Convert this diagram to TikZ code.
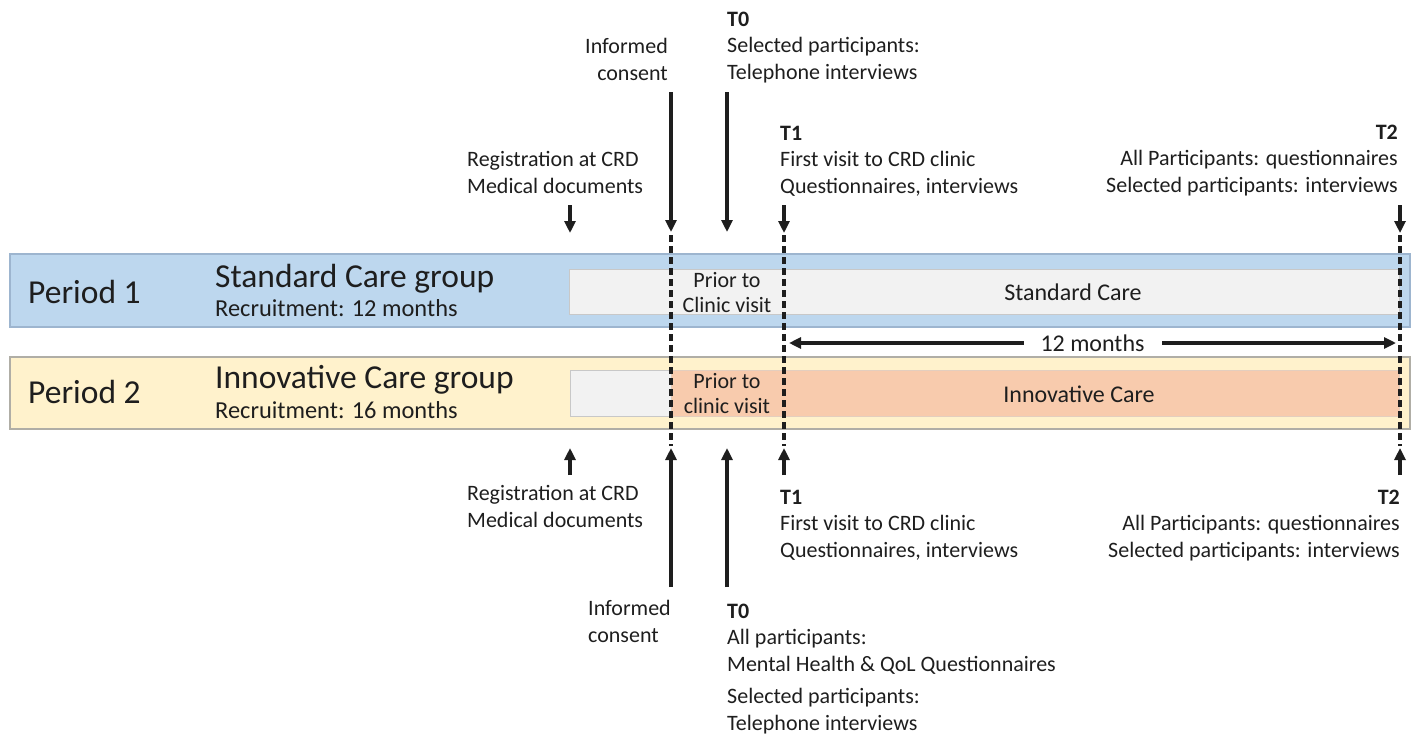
\documentclass[tikz,border=0pt]{standalone}
\usepackage{fontspec}
\setmainfont{Carlito}
\usetikzlibrary{arrows.meta}

\definecolor{ink}{HTML}{1E1E1E}
\definecolor{bandblue}{HTML}{BDD7EE}
\definecolor{bandblueline}{HTML}{9DB5CF}
\definecolor{bandcream}{HTML}{FFF2CC}
\definecolor{bandcreamline}{HTML}{B0AEA6}
\definecolor{boxgrey}{HTML}{F2F2F2}
\definecolor{boxgreyline}{HTML}{C8C8C8}
\definecolor{boxorange}{HTML}{F8CBAD}

\begin{document}
\begin{tikzpicture}[x=1pt,y=-1pt,
  lbl/.style={font=\fontsize{22}{26.5}\selectfont, inner sep=0pt, text=ink},
  bartext/.style={font=\fontsize{24}{28}\selectfont, inner sep=0pt, text=ink},
  title/.style={font=\fontsize{33.5}{38}\selectfont, inner sep=0pt, text=ink},
  evt/.style={-{Triangle[length=12pt,width=11pt]}, line width=3.4pt, draw=ink},
  milestone/.style={line width=3.4pt, draw=ink, dash pattern=on 7pt off 4pt},
  span/.style={{Triangle[length=12pt,width=11pt]}-{Triangle[length=12pt,width=11pt]}, line width=3.4pt, draw=ink}]
\useasboundingbox (0,0) rectangle (1420,736);

% period bands
\path[fill=bandblue, draw=bandblueline, line width=1.2pt] (10,254) rectangle (1410,327);
\path[fill=bandcream, draw=bandcreamline, line width=1.2pt] (10,357) rectangle (1410,429);

% care phases inside the bands
\path[fill=boxgrey, draw=boxgreyline, line width=1pt] (569,269) rectangle (1399,314);
\path[fill=boxgrey, draw=boxgreyline, line width=1pt] (570,370) rectangle (671,416);
\path[fill=boxorange, draw=boxorange!85!black!60, line width=0.6pt] (671,370) rectangle (1399,416);

% band headings
\node[title, anchor=base west] (p1) at (28,303) {Period 1};
\node[title, anchor=base west] (g1) at (215,287) {Standard Care group};
\node[bartext, font=\fontsize{24.4}{28}\selectfont, anchor=base west] (r1) at (215,316) {Recruitment: 12 months};
\node[title, anchor=base west] (p2) at (28,403) {Period 2};
\node[title, anchor=base west] (g2) at (215,388) {Innovative Care group};
\node[bartext, font=\fontsize{24.4}{28}\selectfont, anchor=base west] (r2) at (215,418) {Recruitment: 16 months};

% phase labels
\node[lbl, anchor=base] (pr1a) at (727,287) {Prior to};
\node[lbl, anchor=base] (pr1b) at (727,312) {Clinic visit};
\node[lbl, anchor=base] (pr2a) at (727,388) {Prior to};
\node[lbl, anchor=base] (pr2b) at (727,413) {clinic visit};
\node[bartext, anchor=base] (sc) at (1073,300) {Standard Care};
\node[bartext, anchor=base] (ic) at (1079,402) {Innovative Care};

% milestone lines
\coordinate (icU) at (671,235); \coordinate (icL) at (671,446);
\coordinate (t1U) at (784,235); \coordinate (t1L) at (784,446);
\coordinate (t2U) at (1400,235); \coordinate (t2L) at (1400,446);
\draw[milestone] (icU) -- (icL);
\draw[milestone] (t1U) -- (t1L);
\draw[milestone] (t2U) -- (t2L);

% follow-up span
\coordinate (spanA) at (789,343);
\coordinate (spanB) at (1396,343);
\draw[span] (spanA) -- node[bartext, fill=white, inner xsep=17pt, inner ysep=3pt] (twelve) {12 months} (spanB);

% labels above (Period 1); base anchor sits on the last line
\node[lbl, anchor=base east, align=right] (icTop) at (668,80) {Informed\\consent};
\node[lbl, anchor=base west, align=left] (t0Top) at (727,79) {\textbf{T0}\\Selected participants:\\Telephone interviews};
\node[lbl, anchor=base west, align=left] (regTop) at (467,193) {Registration at CRD\\Medical documents};
\node[lbl, anchor=base west, align=left] (t1Top) at (780,193) {\textbf{T1}\\First visit to CRD clinic\\Questionnaires, interviews};
\node[lbl, anchor=base east, align=right] (t2Top) at (1398,192) {\textbf{T2}\\All Participants: questionnaires\\Selected participants: interviews};

% labels below (Period 2)
\node[lbl, anchor=base west, align=left] (regBot) at (467,527) {Registration at CRD\\Medical documents};
\node[lbl, anchor=base west, align=left] (t1Bot) at (780,557) {\textbf{T1}\\First visit to CRD clinic\\Questionnaires, interviews};
\node[lbl, anchor=base east, align=right] (t2Bot) at (1400,557) {\textbf{T2}\\All Participants: questionnaires\\Selected participants: interviews};
\node[lbl, anchor=base west, align=left] (icBot) at (588,642) {Informed\\consent};
\node[lbl, anchor=base west, align=left] (t0Bot) at (727,730) {\textbf{T0}\\All participants:\\Mental Health \& QoL Questionnaires\\[6pt]Selected participants:\\Telephone interviews};

% arrow end points
\coordinate (aRegT) at (570,205); \coordinate (hRegT) at (570,233);
\coordinate (aIcT) at (671,92);   \coordinate (hIcT) at (671,232);
\coordinate (aT0T) at (727,92);   \coordinate (hT0T) at (727,232);
\coordinate (aT1T) at (784,205);  \coordinate (hT1T) at (784,233);
\coordinate (aT2T) at (1400,205); \coordinate (hT2T) at (1400,233);
\coordinate (aRegB) at (570,475); \coordinate (hRegB) at (570,448);
\coordinate (aIcB) at (671,587);  \coordinate (hIcB) at (671,448);
\coordinate (aT0B) at (727,587);  \coordinate (hT0B) at (727,448);
\coordinate (aT1B) at (784,475);  \coordinate (hT1B) at (784,448);
\coordinate (aT2B) at (1400,475); \coordinate (hT2B) at (1400,448);

\draw[evt] (aRegT) -- (hRegT);
\draw[evt] (aIcT) -- (hIcT);
\draw[evt] (aT0T) -- (hT0T);
\draw[evt] (aT1T) -- (hT1T);
\draw[evt] (aT2T) -- (hT2T);
\draw[evt] (aRegB) -- (hRegB);
\draw[evt] (aIcB) -- (hIcB);
\draw[evt] (aT0B) -- (hT0B);
\draw[evt] (aT1B) -- (hT1B);
\draw[evt] (aT2B) -- (hT2B);
\end{tikzpicture}
\end{document}
